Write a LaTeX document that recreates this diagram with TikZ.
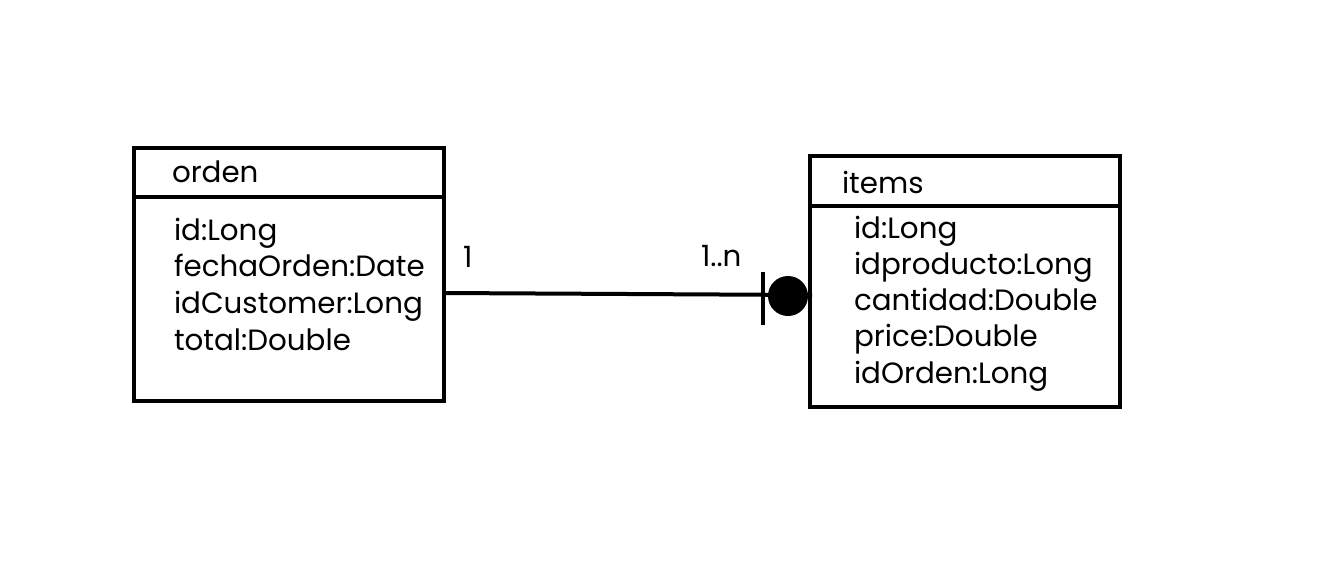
\documentclass[tikz,border=0pt]{standalone}
\usepackage{fontspec}
\setmainfont{Poppins}

\begin{document}
\begin{tikzpicture}[x=0.75pt,y=-0.75pt,line width=3pt,
  attr/.style={anchor=base west,inner sep=0pt,font=\fontsize{22}{26}\selectfont}]
  \useasboundingbox (0,0) rectangle (1326,585);
  % orden
  \draw (134,148) rectangle (444,401);
  \draw (134,197) -- (444,197);
  \node[attr] (ordenT) at (170,182) {orden};
  \node[attr] (o1) at (172,240) {id:Long};
  \node[attr] (o2) at (172,276) {fechaOrden:Date};
  \node[attr] (o3) at (172,313) {idCustomer:Long};
  \node[attr] (o4) at (172,350) {total:Double};
  % items
  \draw (810,156) rectangle (1120,407);
  \draw (810,206) -- (1120,206);
  \node[attr] (itemsT) at (840,193) {items};
  \node[attr] (i1) at (852,238) {id:Long};
  \node[attr] (i2) at (852,274) {idproducto:Long};
  \node[attr] (i3) at (852,310) {cantidad:Double};
  \node[attr] (i4) at (852,346) {price:Double};
  \node[attr] (i5) at (852,383) {idOrden:Long};
  % relacion
  \coordinate (ordenR) at (444,293);
  \coordinate (itemsL) at (812,295);
  \node[circle,fill,inner sep=0pt,minimum size=30pt] (dot) at (788,296) {};
  \draw (ordenR) -- (itemsL);
  \draw (763,272) -- (763,325);
  \node[attr] (m1) at (461,267) {1};
  \node[attr] (m2) at (699,266) {1..n};
\end{tikzpicture}
\end{document}
